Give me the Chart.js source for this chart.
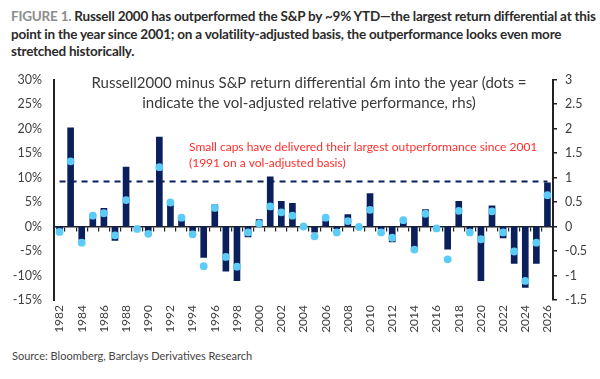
<!DOCTYPE html>
<html>
<head>
<meta charset="utf-8">
<script src="https://cdn.jsdelivr.net/npm/chart.js@4"></script>
<style>
  body { margin: 0; background: #fff; width: 600px; height: 379px; overflow: hidden; position: relative; font-family: Lato, "Open Sans", sans-serif; }
  #head { position: absolute; left: 11px; top: 8px; width: 589px; font-size: 13.5px; font-weight: 700; line-height: 17.7px; color: #2b2b2b; letter-spacing: -0.22px; white-space: nowrap; }
  #head .fig { color: #8c8c8c; }
  #wrap { position: absolute; left: 0; top: 60px; width: 600px; height: 282px; }
  #src { position: absolute; left: 12px; top: 349px; font-size: 11px; color: #444; }
</style>
</head>
<body>
<div id="head"><span class="fig">FIGURE 1.</span> Russell 2000 has outperformed the S&amp;P by ~9% YTD—the largest return differential at this<br>point in the year since 2001; on a volatility-adjusted basis, the outperformance looks even more<br>stretched historically.</div>
<div id="wrap"><canvas id="chart"></canvas></div>
<div id="src">Source: Bloomberg, Barclays Derivatives Research</div>
<script>
/* ===============================
   Data
================================ */
const years = [
  "1982", "1983", "1984", "1985", "1986", "1987", "1988", "1989", "1990", "1991",
  "1992", "1993", "1994", "1995", "1996", "1997", "1998", "1999", "2000", "2001",
  "2002", "2003", "2004", "2005", "2006", "2007", "2008", "2009", "2010", "2011",
  "2012", "2013", "2014", "2015", "2016", "2017", "2018", "2019", "2020", "2021",
  "2022", "2023", "2024", "2025", "2026"
];

// Russell2000 minus S&P return, first 6m of year (%)
const returnDiff = [
  -0.6, 20.2, -2.7, 1.8, 3.8, -2.9, 12.2, -0.3, -1.0, 18.3,
  4.5, 1.3, -1.0, -6.4, 4.5, -9.2, -11.1, -2.2, 1.5, 10.2,
  5.2, 4.8, 0.2, -1.2, 1.2, -0.5, 2.5, -0.2, 6.8, -0.6,
  -3.2, 1.3, -4.8, 3.5, -0.2, -4.7, 5.2, -0.6, -11.1, 4.3,
  -2.4, -7.6, -12.5, -7.6, 9.0
];

// vol-adjusted relative performance (rhs)
const volAdjusted = [
  -0.11, 1.33, -0.33, 0.22, 0.27, -0.18, 0.54, -0.05, -0.15, 1.21,
  0.49, 0.18, -0.16, -0.81, 0.38, -0.62, -0.82, -0.12, 0.06, 0.41,
  0.29, 0.22, 0.0, -0.20, 0.18, -0.12, 0.11, -0.01, 0.34, -0.12,
  -0.23, 0.13, -0.47, 0.26, -0.04, -0.67, 0.32, -0.12, -0.26, 0.31,
  -0.12, -0.51, -1.11, -0.33, 0.64
];

// current YTD level (dashed line)
const currentLevel = 9.2;

const leftTicks = { min: -15, max: 30, step: 5 };
const rightTicks = { min: -1.5, max: 3, step: 0.5 };

const titleLines = [
  "Russell2000 minus S&P return differential 6m into the year (dots =",
  "indicate the vol-adjusted relative performance, rhs)"
];
const noteLines = [
  "Small caps have delivered their largest outperformance since 2001",
  "(1991 on a vol-adjusted basis)"
];

/* ===============================
   Colors / fonts
================================ */
const NAVY = "#0a1f5c";
const LIGHT = "#5ccbf5";
const AXIS = "#222";
const TEXT = "#404040";
const FONT = "Lato, 'Open Sans', sans-serif";

/* ===============================
   Text inside the plot
================================ */
const plotText = {
  id: "plotText",
  afterDraw(chart) {
    const { ctx, chartArea } = chart;
    ctx.save();
    ctx.textBaseline = "middle";

    ctx.fillStyle = "#3a3a3a";
    ctx.font = "15px " + FONT;
    ctx.textAlign = "center";
    titleLines.forEach((t, i) => ctx.fillText(t, 309, chartArea.top + 4 + i * 20));

    ctx.fillStyle = "#ff2d2d";
    ctx.font = "12px " + FONT;
    ctx.textAlign = "left";
    noteLines.forEach((t, i) => ctx.fillText(t, 189, chartArea.top + 68 + i * 16));

    ctx.restore();
  }
};

/* ===============================
   Chart
================================ */
new Chart(document.getElementById("chart"), {
  type: "bar",
  data: {
    labels: years,
    datasets: [
      {
        type: "line",
        label: "Vol-adjusted",
        data: volAdjusted,
        xAxisID: "x",
        yAxisID: "y1",
        showLine: false,
        pointRadius: 3.9,
        pointHoverRadius: 3.9,
        pointBackgroundColor: LIGHT,
        pointBorderWidth: 0,
        order: 0
      },
      {
        type: "line",
        label: "Current",
        data: years.map(() => currentLevel),
        xAxisID: "x",
        yAxisID: "y",
        borderColor: NAVY,
        borderWidth: 2,
        borderDash: [6, 5],
        pointRadius: 0,
        fill: false,
        order: 1
      },
      {
        label: "Return differential",
        data: returnDiff,
        xAxisID: "x",
        yAxisID: "y",
        backgroundColor: NAVY,
        categoryPercentage: 1,
        barPercentage: 0.6,
        order: 2
      }
    ]
  },
  options: {
    responsive: true,
    maintainAspectRatio: false,
    animation: false,
    layout: { padding: { top: 19, left: 0, right: 0, bottom: 0 } },
    plugins: {
      legend: { display: false },
      tooltip: { enabled: false }
    },
    scales: {
      x: {
        position: "bottom",
        grid: { display: false, drawTicks: false },
        border: { display: false },
        ticks: {
          autoSkip: false,
          maxRotation: 90,
          minRotation: 90,
          padding: 5,
          color: TEXT,
          font: { family: FONT, size: 12 },
          callback(val, i) { return i % 2 === 0 ? this.getLabelForValue(val) : ""; }
        },
        afterFit(s) { s.height = 42; }
      },
      x0: {
        type: "category",
        position: { y: 0 },
        grid: { drawOnChartArea: false, drawTicks: true, tickLength: 4, color: AXIS, offset: true, lineWidth: 1.2 },
        border: { display: true, color: AXIS, width: 1.5 },
        ticks: { display: false }
      },
      y: {
        position: "left",
        min: leftTicks.min,
        max: leftTicks.max,
        grid: { display: false, drawTicks: false },
        border: { display: true, color: AXIS, width: 2 },
        ticks: {
          stepSize: leftTicks.step,
          padding: 12,
          color: TEXT,
          font: { family: FONT, size: 12.5 },
          callback: v => v + "%"
        },
        afterFit(s) { s.width = 54; }
      },
      y1: {
        position: "right",
        min: rightTicks.min,
        max: rightTicks.max,
        grid: { drawOnChartArea: false, drawTicks: true, tickLength: 4, color: AXIS, lineWidth: 1.5 },
        border: { display: true, color: AXIS, width: 2 },
        ticks: {
          stepSize: rightTicks.step,
          padding: 8,
          color: TEXT,
          font: { family: FONT, size: 12.5 },
          callback: v => String(v)
        },
        afterFit(s) { s.width = 47; }
      }
    }
  },
  plugins: [plotText]
});
</script>
</body>
</html>
